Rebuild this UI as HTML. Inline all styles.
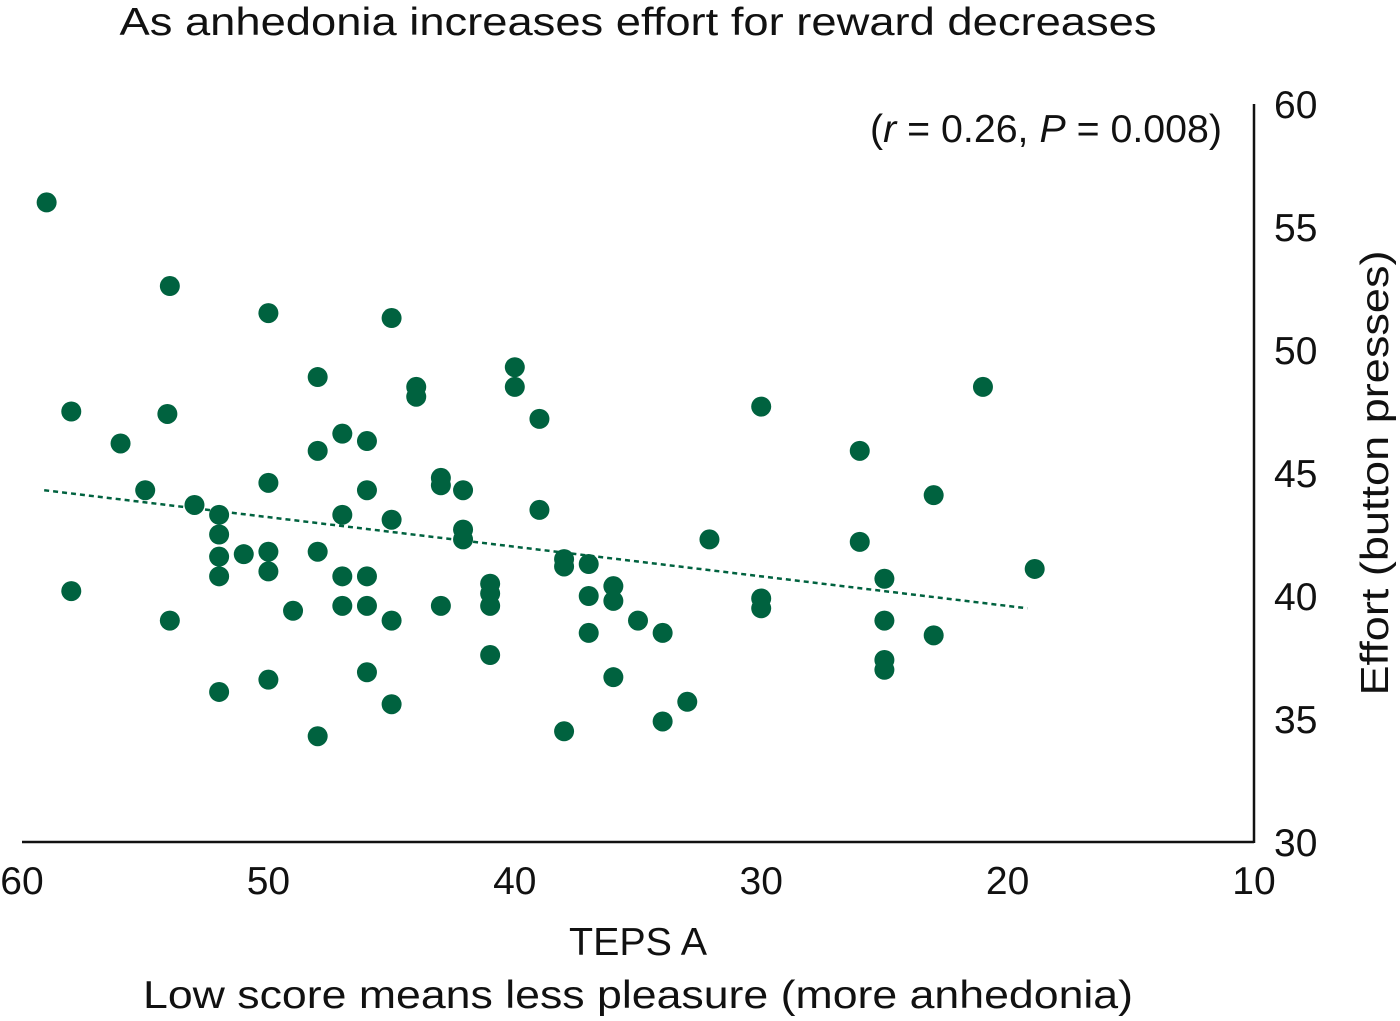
<!DOCTYPE html>
<html><head><meta charset="utf-8"><style>
body{margin:0;background:#fff;}
svg{display:block;font-family:"Liberation Sans","DejaVu Sans",sans-serif;}
text{fill:#111;}
</style></head><body>
<svg id="chart" width="1400" height="1021" viewBox="0 0 1400 1021">
<text x="638" y="35" font-size="39" text-anchor="middle" textLength="1037" lengthAdjust="spacingAndGlyphs">As anhedonia increases effort for reward decreases</text>
<text x="1222" y="142" font-size="39" text-anchor="end" textLength="352" lengthAdjust="spacingAndGlyphs">(<tspan font-style="italic">r</tspan> = 0.26, <tspan font-style="italic">P</tspan> = 0.008)</text>
<g id="marks"></g>
<line x1="22" y1="842" x2="1254" y2="842" stroke="#111" stroke-width="2.5"/>
<line x1="1254" y1="104" x2="1254" y2="843" stroke="#111" stroke-width="2.5"/>
<g id="xticks"></g>
<g id="yticks"></g>
<text x="638" y="955" font-size="39" text-anchor="middle" textLength="138" lengthAdjust="spacingAndGlyphs">TEPS A</text>
<text x="638" y="1008" font-size="39" text-anchor="middle" textLength="990" lengthAdjust="spacingAndGlyphs">Low score means less pleasure (more anhedonia)</text>
<text x="0" y="0" font-size="39" text-anchor="middle" textLength="445" lengthAdjust="spacingAndGlyphs" transform="translate(1388,473) rotate(-90)">Effort (button presses)</text>
</svg>
<script>
const xVals=[59,54,50,45,58,54.1,48,44,44,40,40,39,56,47,46,48,30,21,26,23,55,53,50,46,43,43,42.1,52,52,47,45,39,42.1,42.1,32.1,26,52,51,50,48,50,52,47,46,38,38,37,58,49,47,46,45,43,41,41,41,37,36,36,35,34,30,30,25,18.9,25,23,54,37,41,46,50,52,45,36,33,34,38,48,25,25];
const yVals=[56,52.6,51.5,51.3,47.5,47.4,48.9,48.5,48.1,49.3,48.5,47.2,46.2,46.6,46.3,45.9,47.7,48.5,45.9,44.1,44.3,43.7,44.6,44.3,44.8,44.5,44.3,43.3,42.5,43.3,43.1,43.5,42.7,42.3,42.3,42.2,41.6,41.7,41.8,41.8,41,40.8,40.8,40.8,41.5,41.2,41.3,40.2,39.4,39.6,39.6,39,39.6,40.5,40.1,39.6,40,40.4,39.8,39,38.5,39.9,39.5,40.7,41.1,39,38.4,39,38.5,37.6,36.9,36.6,36.1,35.6,36.7,35.7,34.9,34.5,34.3,37.4,37];
const trendX=[59.1,19.2];
const trendY=[44.3,39.5];
const xTicks=[60,50,40,30,20,10];
const yTicks=[60,55,50,45,40,35,30];
const sx=v=>22+(60-v)*24.64;
const sy=v=>842-(v-30)*24.6;
const NS="http://www.w3.org/2000/svg";
const marks=document.getElementById('marks');
const tl=document.createElementNS(NS,'line');


tl.setAttribute('x1',sx(trendX[0]));tl.setAttribute('y1',sy(trendY[0]));
tl.setAttribute('x2',sx(trendX[1]));tl.setAttribute('y2',sy(trendY[1]));
tl.setAttribute('stroke','#00623f');tl.setAttribute('stroke-width','2.5');tl.setAttribute('stroke-dasharray','5 4');
marks.appendChild(tl);
xVals.forEach((x,i)=>{
 const c=document.createElementNS(NS,'circle');
 
 
 c.setAttribute('cx',sx(x));c.setAttribute('cy',sy(yVals[i]));c.setAttribute('r','10');c.setAttribute('fill','#00623f');
 marks.appendChild(c);
});
const xg=document.getElementById('xticks');
xTicks.forEach(v=>{
 const t=document.createElementNS(NS,'text');
 
 
 t.setAttribute('x',sx(v));t.setAttribute('y',894);t.setAttribute('font-size','39');t.setAttribute('text-anchor','middle');
 t.textContent=v;xg.appendChild(t);
});
const yg=document.getElementById('yticks');
yTicks.forEach(v=>{
 const t=document.createElementNS(NS,'text');
 
 
 t.setAttribute('x',1274);t.setAttribute('y',sy(v)+14);t.setAttribute('font-size','39');
 t.textContent=v;yg.appendChild(t);
});
</script>
</body></html>
